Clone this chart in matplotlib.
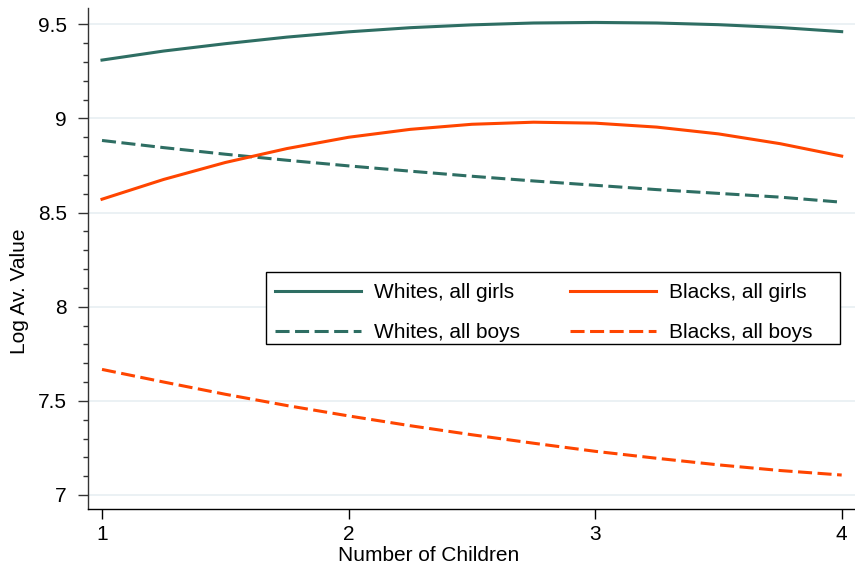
import matplotlib
matplotlib.use('Agg')
import matplotlib.pyplot as plt
from matplotlib.patches import Rectangle
import numpy as np

plt.rcParams['font.family'] = ['Liberation Sans', 'DejaVu Sans']

# number of children
children = [1, 1.25, 1.5, 1.75, 2, 2.25, 2.5, 2.75, 3, 3.25, 3.5, 3.75, 4]

# log average value
whites_girls = [9.310, 9.358, 9.397, 9.432, 9.460, 9.482, 9.497, 9.507, 9.510, 9.507, 9.498, 9.483, 9.461]
whites_boys = [8.883, 8.845, 8.810, 8.778, 8.748, 8.720, 8.693, 8.668, 8.645, 8.622, 8.602, 8.582, 8.555]
blacks_girls = [8.571, 8.676, 8.766, 8.840, 8.900, 8.942, 8.969, 8.980, 8.975, 8.954, 8.918, 8.866, 8.800]
blacks_boys = [7.667, 7.600, 7.535, 7.475, 7.420, 7.368, 7.320, 7.275, 7.232, 7.195, 7.160, 7.130, 7.106]

teal = '#2e6e63'
orange = '#ff4500'
lw = 2.2
dash = (4.6, 1.8)

fig = plt.figure(figsize=(8.55, 5.65), dpi=100)
ax = fig.add_axes([88 / 855, 1 - 509.3 / 565, (855 - 88) / 855, (509.3 - 8.3) / 565])

ax.plot(children, whites_girls, color=teal, lw=lw, label='Whites, all girls')
ax.plot(children, whites_boys, color=teal, lw=lw, ls=(0, dash), label='Whites, all boys')
ax.plot(children, blacks_girls, color=orange, lw=lw, label='Blacks, all girls')
ax.plot(children, blacks_boys, color=orange, lw=lw, ls=(0, dash), label='Blacks, all boys')

ax.set_xlim(0.9432, 4.054)
ax.set_ylim(6.924, 9.585)
ax.set_xticks([1, 2, 3, 4])
ax.set_yticks([7, 7.5, 8, 8.5, 9, 9.5])
ax.set_yticklabels(['7', '7.5', '8', '8.5', '9', '9.5'])
ax.set_yticks(np.arange(7.0, 9.55, 0.1), minor=True)
ax.tick_params(axis='both', which='major', labelsize=15, length=7.2, width=1.0)
ax.tick_params(axis='y', which='major', pad=8, colors='#333333', labelcolor='black')
ax.tick_params(axis='x', which='major', pad=4)
ax.tick_params(axis='y', which='minor', length=3.6, width=1.0, colors='#333333')
ax.grid(axis='y', which='major', color='#e8eff2', lw=1.2)
ax.set_axisbelow(True)

for s in ['top', 'right']:
    ax.spines[s].set_visible(False)
ax.spines['left'].set_color('#333333')
ax.spines['left'].set_linewidth(1.0)
ax.spines['bottom'].set_color('black')
ax.spines['bottom'].set_linewidth(1.0)

ax.set_xlabel('Number of Children', fontsize=15)
ax.set_ylabel('Log Av. Value', fontsize=15)
ax.xaxis.set_label_coords((429 - 88) / 767, (509.3 - 555.7) / 501)
ax.yaxis.set_label_coords((20 - 88) / 767, (509.3 - 291) / 501)
ax.xaxis.label.set_va('center')
ax.yaxis.label.set_va('center')

# legend frame drawn separately
ax.add_patch(Rectangle(((266 - 88) / 767, (509.3 - 344) / 501),
                       (840 - 266) / 767, (344 - 272) / 501,
                       transform=ax.transAxes, fill=True, facecolor='white',
                       edgecolor='black', lw=1.0, zorder=5))
handles, labels = ax.get_legend_handles_labels()
leg = ax.legend(handles, labels, ncol=2, frameon=False, fontsize=15,
                loc='upper left',
                bbox_to_anchor=((275 - 88) / 767, (509.3 - 283) / 501),
                borderpad=0, borderaxespad=0, handlelength=4.15,
                handletextpad=0.6, columnspacing=2.4, labelspacing=1.0)
leg.set_zorder(6)

fig.savefig('out.png', dpi=100)
